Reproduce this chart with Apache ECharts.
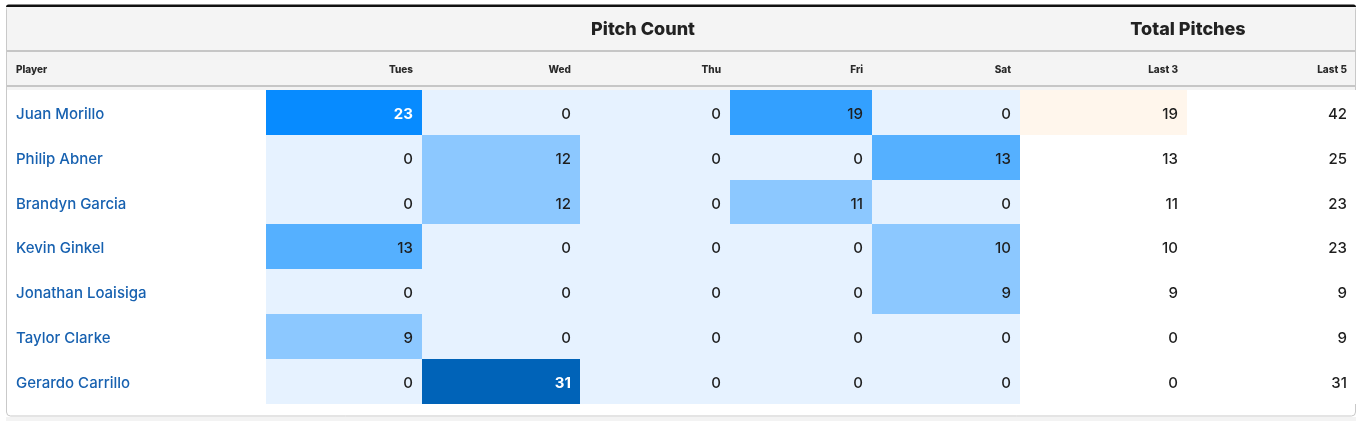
<!DOCTYPE html>
<html><head><meta charset="utf-8">
<script src="https://cdn.jsdelivr.net/npm/echarts@6/dist/echarts.min.js"></script>
<style>html,body{margin:0;padding:0;background:#fff}#c{width:1360px;height:421px}</style>
</head><body><div id="c"></div>
<script>
// ---- data ----
var players = ['Juan Morillo','Philip Abner','Brandyn Garcia','Kevin Ginkel','Jonathan Loaisiga','Taylor Clarke','Gerardo Carrillo'];
var columns = ['Tues','Wed','Thu','Fri','Sat','Last 3','Last 5'];
var tues  = [23, 0, 0, 13, 0, 9, 0];
var wed   = [0, 12, 12, 0, 0, 0, 31];
var thu   = [0, 0, 0, 0, 0, 0, 0];
var fri   = [19, 0, 11, 0, 0, 0, 0];
var sat   = [0, 13, 0, 10, 9, 0, 0];
var last3 = [19, 13, 11, 10, 9, 0, 0];
var last5 = [42, 25, 23, 23, 9, 9, 31];
var groupTitles = ['Pitch Count', 'Total Pitches'];

// ---- layout ----
var edges = [6, 266, 422, 580, 730, 872, 1020, 1187, 1356];
var rowTop = 90, rowH = 44.8;
var FONT = 'Inter, "Noto Sans", sans-serif';

var values = [tues, wed, thu, fri, sat, last3, last5];

function dayColor(v){
  if (v === 0) return '#e6f2ff';
  if (v < 13) return '#8cc8ff';
  if (v < 19) return '#55b0ff';
  if (v < 23) return '#33a0ff';
  if (v < 31) return '#078bff';
  return '#0063b8';
}
function totColor(v, ci, ri){
  if (ci === 5 && v >= 19) return '#fff6ec';
  return '#ffffff';
}

var grids = [], xAxes = [], yAxes = [], series = [];
columns.forEach(function(col, ci){
  var l = edges[ci+1], r = edges[ci+2];
  grids.push({left: l, width: r - l, top: rowTop, height: rowH * players.length, containLabel: false});
  xAxes.push({type:'category', gridIndex: ci, data:[col], show:false});
  yAxes.push({type:'category', gridIndex: ci, data: players, inverse: true, show: false});
  var isDay = ci < 5;
  series.push({
    type:'custom', xAxisIndex: ci, yAxisIndex: ci, z: 10,
    data: values[ci].map(function(v, ri){ return [0, ri, v]; }),
    renderItem: function(params, api){
      var v = api.value(2), ri = api.value(1);
      var c = api.coord([0, ri]);
      var s = api.size([1, 1]);
      var x0 = Math.round(c[0] - s[0]/2), x1 = Math.round(c[0] + s[0]/2);
      var y0 = Math.round(c[1] - s[1]/2), y1 = Math.round(c[1] + s[1]/2);
      var fill = isDay ? dayColor(v) : totColor(v, ci, ri);
      var white = isDay && v > 20;
      var kids = [
        {type:'rect', shape:{x:x0, y:y0, width:x1-x0, height:y1-y0}, style:{fill: fill}},
        {type:'text', style:{x: x1 - 9, y: c[1] + 2, text: String(v), textAlign:'right', textVerticalAlign:'middle',
          fill: white ? '#ffffff' : '#1e1e1e', font: (white ? '700 ' : '500 ') + '15px ' + FONT}}
      ];
      if (ci === 0) {
        kids.push({type:'text', style:{x: x0 - (edges[1] - 16), y: c[1] + 2, text: players[ri], textAlign:'left', textVerticalAlign:'middle',
          fill:'#1761b0', font:'500 15px ' + FONT}});
      }
      return {type:'group', children: kids};
    }
  });
});

var graphics = [
  {type:'rect', z:-20, shape:{x:6, y:417, width:1350, height:6}, style:{fill:'#f3f3f3'}},
  {type:'rect', z:-10, shape:{x:6.5, y:5.5, width:1349, height:410.5, r:4}, style:{fill:'#ffffff', stroke:'#c9c9c9', lineWidth:1}},
  {type:'rect', z:-9, shape:{x:7, y:7, width:1348, height:43}, style:{fill:'#f4f4f4'}},
  {type:'rect', z:-9, shape:{x:7, y:52, width:1348, height:33}, style:{fill:'#f4f4f4'}},
  {type:'rect', z:-8, shape:{x:7, y:50, width:1348, height:2}, style:{fill:'#c6c6c6'}},
  {type:'rect', z:-8, shape:{x:7, y:85, width:1348, height:2}, style:{fill:'#c6c6c6'}},
  {type:'rect', z:-8, shape:{x:7, y:87, width:1348, height:3}, style:{fill:'#f3f3f3'}},
  {type:'rect', z:-7, shape:{x:6, y:4.5, width:1350, height:2.5, r:[3,3,0,0]}, style:{fill:'#111111'}},
  {type:'text', z:5, style:{x:(edges[1]+edges[6])/2, y:30, text: groupTitles[0], textAlign:'center', textVerticalAlign:'middle', fill:'#222', font:'800 18px ' + FONT}},
  {type:'text', z:5, style:{x:(edges[6]+edges[8])/2, y:30, text: groupTitles[1], textAlign:'center', textVerticalAlign:'middle', fill:'#222', font:'800 18px ' + FONT}},
  {type:'text', z:5, style:{x:16, y:70, text:'Player', textAlign:'left', textVerticalAlign:'middle', fill:'#2a2a2a', font:'800 10px ' + FONT}}
];
columns.forEach(function(col, ci){
  graphics.push({type:'text', z:5, style:{x: edges[ci+2] - 9, y:70, text: col, textAlign:'right', textVerticalAlign:'middle', fill:'#2a2a2a', font:'800 10px ' + FONT}});
});

var chart = echarts.init(document.getElementById('c'), null, {renderer:'canvas'});
chart.setOption({
  backgroundColor:'#ffffff',
  animation:false,
  grid: grids, xAxis: xAxes, yAxis: yAxes, series: series,
  graphic: graphics
});
</script></body></html>
